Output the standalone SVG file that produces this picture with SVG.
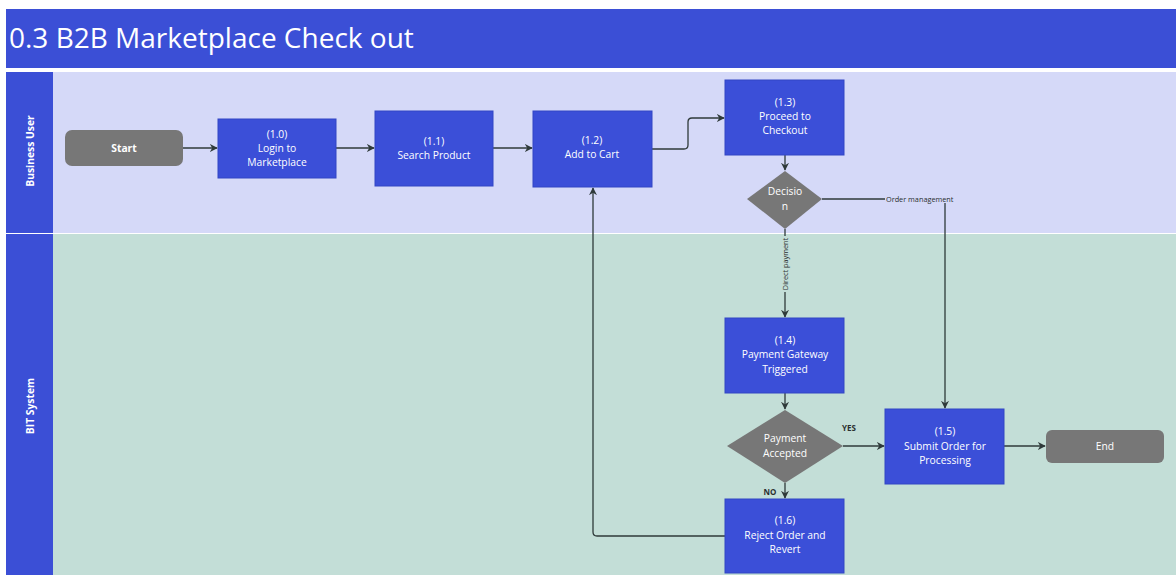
<svg xmlns="http://www.w3.org/2000/svg" width="1176" height="575" viewBox="0 0 1176 575">
<style>
.t{font-family:"Open Sans","Liberation Sans",sans-serif;fill:#fff;text-anchor:middle;font-size:10.3px}
.b{font-weight:bold}
.proc{fill:#3b4fd8;stroke:#3346c4;stroke-width:1}
.gray{fill:#777}
.ln{fill:none;stroke:#2f3a3a;stroke-width:1.3}
.lbl{font-family:"Open Sans","Liberation Sans",sans-serif;fill:#2a2f2f;font-size:7.3px}
.yn{font-family:"Open Sans","Liberation Sans",sans-serif;fill:#2a2f2f;font-size:8px;font-weight:bold;text-anchor:middle}
</style>
<defs>
<marker id="ah" viewBox="0 0 10 10" refX="9" refY="5" markerWidth="8" markerHeight="8" markerUnits="userSpaceOnUse" orient="auto">
<path d="M0,0 L10,5 L0,10 L3,5 z" fill="#2f3a3a"/>
</marker>
</defs>
<rect width="1176" height="575" fill="#fff"/>
<g id="title">
<rect x="6" y="9" width="1170" height="59" fill="#3b4fd6"/>
<text x="9" y="48" font-family="'Open Sans','Liberation Sans',sans-serif" font-size="28" fill="#fff">0.3 B2B Marketplace Check out</text>
</g>
<g id="lane-business">
<rect x="53" y="72" width="1123" height="161" fill="#d5d9f8"/>
<rect x="6" y="72" width="47" height="161" fill="#3b4fd6"/>
<text class="t b" font-size="13" transform="translate(33.5,151) rotate(-90)">Business User</text>
</g>
<g id="lane-bit">
<rect x="53" y="234" width="1123" height="341" fill="#c3ded7"/>
<rect x="6" y="234" width="47" height="341" fill="#3b4fd6"/>
<text class="t b" font-size="13.5" transform="translate(33.5,406) rotate(-90)">BIT System</text>
</g>
<g id="connectors">
<path class="ln" d="M183,148 L217,148" marker-end="url(#ah)"/>
<path class="ln" d="M336,148 L374,148" marker-end="url(#ah)"/>
<path class="ln" d="M493,148 L532,148" marker-end="url(#ah)"/>
<path class="ln" d="M652,149 L684,149 Q688,149 688,145 L688,122 Q688,118 692,118 L724,118" marker-end="url(#ah)"/>
<path class="ln" d="M785,155 L785,170" marker-end="url(#ah)"/>
<path class="ln" d="M822,199 L945,199 L945,408" marker-end="url(#ah)"/>
<rect x="885" y="194" width="72" height="9" fill="#d5d9f8"/>
<text class="lbl" x="886" y="201.5">Order management</text>
<path class="ln" d="M785,229 L785,317" marker-end="url(#ah)"/>
<rect x="780" y="236" width="10" height="56" fill="#c3ded7"/>
<text class="lbl" text-anchor="middle" transform="translate(787.5,264) rotate(-90)">Direct payment</text>
<path class="ln" d="M785,393 L785,409" marker-end="url(#ah)"/>
<path class="ln" d="M843,446 L884,446" marker-end="url(#ah)"/>
<text class="yn" x="849" y="431">YES</text>
<path class="ln" d="M785,483 L785,498" marker-end="url(#ah)"/>
<text class="yn" x="770" y="495">NO</text>
<path class="ln" d="M1004,446 L1045,446" marker-end="url(#ah)"/>
<path class="ln" d="M725,536 L597,536 Q593,536 593,532 L593,188" marker-end="url(#ah)"/>
</g>
<g id="start">
<rect x="65" y="130" width="118" height="36" rx="7" class="gray"/>
<text class="t b" x="124" y="152">Start</text>
</g>
<g id="n1-0">
<rect x="218" y="119" width="118" height="59" class="proc"/>
<text class="t" x="277" y="138">(1.0)</text>
<text class="t" x="277" y="152">Login to</text>
<text class="t" x="277" y="166">Marketplace</text>
</g>
<g id="n1-1">
<rect x="375" y="111" width="118" height="75" class="proc"/>
<text class="t" x="434" y="145">(1.1)</text>
<text class="t" x="434" y="159">Search Product</text>
</g>
<g id="n1-2">
<rect x="533" y="111" width="119" height="76" class="proc"/>
<text class="t" x="592" y="144">(1.2)</text>
<text class="t" x="592" y="158">Add to Cart</text>
</g>
<g id="n1-3">
<rect x="725" y="80" width="119" height="75" class="proc"/>
<text class="t" x="785" y="106">(1.3)</text>
<text class="t" x="785" y="120">Proceed to</text>
<text class="t" x="785" y="134">Checkout</text>
</g>
<g id="decision">
<path d="M785,171 L822,199 L785,229 L747,199 z" class="gray"/>
<text class="t" x="785" y="195">Decisio</text>
<text class="t" x="785" y="210">n</text>
</g>
<g id="n1-4">
<rect x="725" y="318" width="119" height="75" class="proc"/>
<text class="t" x="785" y="344">(1.4)</text>
<text class="t" x="785" y="358">Payment Gateway</text>
<text class="t" x="785" y="373">Triggered</text>
</g>
<g id="payment-accepted">
<path d="M785,410 L843,446 L785,483 L727,446 z" class="gray"/>
<text class="t" x="785" y="442">Payment</text>
<text class="t" x="785" y="457">Accepted</text>
</g>
<g id="n1-5">
<rect x="885" y="409" width="119" height="75" class="proc"/>
<text class="t" x="945" y="435">(1.5)</text>
<text class="t" x="945" y="450">Submit Order for</text>
<text class="t" x="945" y="464">Processing</text>
</g>
<g id="end">
<rect x="1046" y="430" width="118" height="33" rx="6" class="gray"/>
<text class="t" x="1105" y="450">End</text>
</g>
<g id="n1-6">
<rect x="725" y="499" width="119" height="74" class="proc"/>
<text class="t" x="785" y="524">(1.6)</text>
<text class="t" x="785" y="539">Reject Order and</text>
<text class="t" x="785" y="553">Revert</text>
</g>
</svg>
